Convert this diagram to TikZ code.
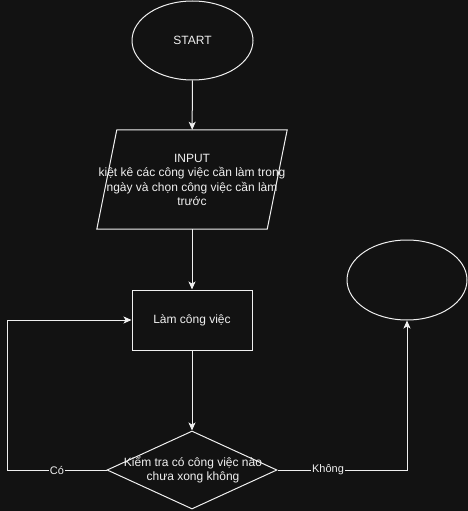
\documentclass[tikz,border=0pt]{standalone}
\usepackage{fontspec}
\setmainfont{Liberation Sans}
\usetikzlibrary{shapes.geometric, arrows.meta}

\definecolor{canvas}{RGB}{18,18,18}
\definecolor{ink}{RGB}{240,240,240}

\tikzset{
    term/.style={ellipse, draw=ink, line width=1pt, minimum width=121pt, minimum height=79pt, inner sep=0pt},
    io/.style={rectangle, minimum width=190pt, minimum height=99pt, inner sep=0pt},
    edge/.style={draw=ink, line width=1pt},
    proc/.style={rectangle, draw=ink, line width=1pt, minimum width=120pt, minimum height=60pt, inner sep=0pt},
    decision/.style={diamond, draw=ink, line width=1pt, minimum width=170pt, minimum height=78pt, inner sep=0pt},
    txt/.style={text=ink, align=center, font=\fontsize{12}{14.5}\selectfont},
    flow/.style={draw=ink, line width=1pt, -{Stealth[length=8pt, width=7pt, inset=2pt]}},
    lbl/.style={fill=canvas, text=ink, inner sep=1pt, font=\fontsize{11}{13}\selectfont}
}

\begin{document}
\begin{tikzpicture}[x=1pt, y=-1pt]
    \fill[canvas] (0,0) rectangle (468,511);
    \useasboundingbox (0,0) rectangle (468,511);

    % shapes
    \node[term] (start) at (192.5,40.5) {};
    \node[txt] at (start) {START};
    \node[io] (inp) at (192,179.5) {};
    \draw[edge] ([xshift=20pt]inp.north west) -- (inp.north east)
        -- ([xshift=-20pt]inp.south east) -- (inp.south west) -- cycle;
    \node[txt] at (192,180) {INPUT\\kiệt kê các công việc cần làm trong\\ngày và chọn công việc cần làm\\trước};
    \node[proc] (work) at (192,320) {};
    \node[txt] at (work) {Làm công việc};
    \node[decision] (chk) at (192,470) {};
    \node[txt] at (193,470) {Kiểm tra có công việc nào\\chưa xong không};
    \node[term, minimum width=120pt, minimum height=80pt] (stop) at (407,280) {};

    % connectors
    \coordinate (back) at (7.5,470);
    \draw[flow] (start) -- (inp);
    \draw[flow] (inp) -- (work);
    \draw[flow] (work) -- (chk);
    \draw[flow] (chk.west) -- node[lbl]{Có} (back) |- (work.west);
    \draw[flow] (chk.east) -| node[lbl, pos=0.195]{Không} (stop.south);
\end{tikzpicture}
\end{document}
